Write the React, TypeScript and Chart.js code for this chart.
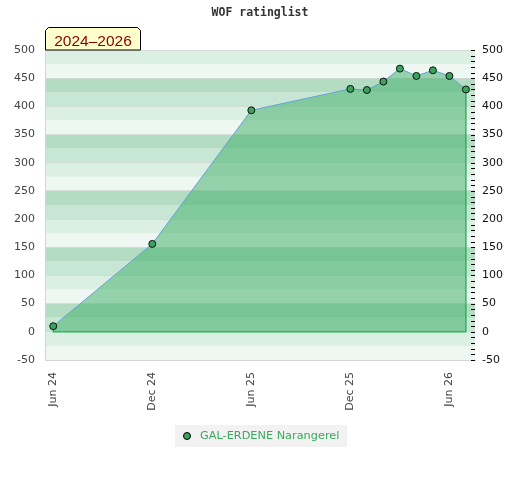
import React, { useEffect, useRef } from "react";
import { Chart, registerables } from "chart.js";

Chart.register(...registerables);

// ---- data ----
const monthIndex = [0, 6, 12, 18, 19, 20, 21, 22, 23, 24, 25]; // months since Jun 2024
const ratings = [10, 156, 393, 431, 429, 444, 467, 454, 464, 454, 430];
const xTickValues = [0, 6, 12, 18, 24];
const xTickLabels = ["Jun 24", "Dec 24", "Jun 25", "Dec 25", "Jun 26"];
const yMin = -50;
const yMax = 500;
const yStep = 50;
const seriesName = "GAL-ERDENE Narangerel";
const chartTitle = "WOF ratinglist";
const periodLabel = "2024\u20132026";

const FONT = "'DejaVu Sans', sans-serif";

const bandColor = (lower: number) => {
  const m = ((lower % 100) + 100) % 100;
  if (m === 75) return "#dcefe3";
  if (m === 50) return "#eff7f2";
  if (m === 25) return "#b3dcc3";
  return "#c7e6d3";
};

const bandsPlugin = {
  id: "bands",
  beforeDraw(chart: any) {
    const { ctx, chartArea, scales } = chart;
    const y = scales.y;
    ctx.save();
    for (let v = yMin; v < yMax; v += 25) {
      const yt = y.getPixelForValue(v + 25);
      const yb = y.getPixelForValue(v);
      ctx.fillStyle = bandColor(v);
      ctx.fillRect(chartArea.left, yt, chartArea.right - chartArea.left, yb - yt);
    }
    ctx.restore();
  },
};

const decorPlugin = {
  id: "decor",
  afterDraw(chart: any) {
    const { ctx, chartArea, scales } = chart;
    const y = scales.y;
    ctx.save();
    // right minor ticks
    ctx.strokeStyle = "#000";
    ctx.lineWidth = 1;
    ctx.beginPath();
    for (let v = yMin; v <= yMax; v += 10) {
      const py = Math.round(y.getPixelForValue(v)) + 0.5;
      ctx.moveTo(chartArea.right - 4, py);
      ctx.lineTo(chartArea.right, py);
    }
    ctx.stroke();

    // title
    ctx.fillStyle = "#333";
    ctx.font = "bold 11.5px 'DejaVu Sans Mono', monospace";
    ctx.textAlign = "center";
    ctx.textBaseline = "middle";
    ctx.fillText(chartTitle, 260, 13);

    // period box
    const l = chartArea.left + 0.5;
    const r = 140.5;
    const t = 27.5;
    const b = chartArea.top;
    ctx.beginPath();
    ctx.moveTo(l, b);
    ctx.lineTo(l, t + 3);
    ctx.lineTo(l + 3, t);
    ctx.lineTo(r - 3, t);
    ctx.lineTo(r, t + 3);
    ctx.lineTo(r, b);
    ctx.closePath();
    ctx.fillStyle = "#ffffcc";
    ctx.fill();
    ctx.strokeStyle = "#000";
    ctx.stroke();
    ctx.fillStyle = "#8b0000";
    ctx.font = "15.5px 'Liberation Sans', sans-serif";
    ctx.textAlign = "center";
    ctx.textBaseline = "alphabetic";
    ctx.fillText(periodLabel, (l + r) / 2, 45.5);

    // legend
    ctx.fillStyle = "#f2f2f2";
    ctx.fillRect(175, 425, 172, 22);
    ctx.beginPath();
    ctx.arc(187, 436, 3.5, 0, Math.PI * 2);
    ctx.fillStyle = "#3aa35c";
    ctx.fill();
    ctx.strokeStyle = "#000";
    ctx.lineWidth = 1;
    ctx.stroke();
    ctx.fillStyle = "#3aaa5c";
    ctx.font = "11.3px " + FONT;
    ctx.textAlign = "left";
    ctx.textBaseline = "middle";
    ctx.fillText(seriesName, 200, 436);
    ctx.restore();
  },
};

export default function App() {
  const ref = useRef<HTMLCanvasElement>(null);

  useEffect(() => {
    if (!ref.current) return;
    Chart.defaults.font.family = FONT;
    const pts = monthIndex.map((m, i) => ({ x: m, y: ratings[i] }));
    const n = monthIndex.length - 1;
    const outline = [
      { x: monthIndex[n], y: ratings[n] },
      { x: monthIndex[n], y: 0 },
      { x: monthIndex[0], y: 0 },
      { x: monthIndex[0], y: ratings[0] },
    ];
    const chart = new Chart(ref.current, {
      type: "line",
      data: {
        datasets: [
          {
            label: seriesName,
            data: pts,
            borderColor: "#63a2da",
            borderWidth: 1,
            pointRadius: 3.5,
            pointBackgroundColor: "#3aa35c",
            pointBorderColor: "#111",
            pointBorderWidth: 1,
            fill: false,
            order: 1,
          },
          {
            label: "outline",
            data: outline,
            borderColor: "#1fae55",
            borderWidth: 1.3,
            pointRadius: 0,
            fill: false,
            order: 2,
          },
          {
            label: "area",
            data: pts,
            borderWidth: 0,
            borderColor: "rgba(0,0,0,0)",
            pointRadius: 0,
            backgroundColor: "rgba(60,174,101,0.5)",
            fill: "origin",
            order: 3,
          },
        ],
      },
      options: {
        responsive: false,
        animation: false,
        layout: { padding: { top: 50, left: 0, right: 0, bottom: 0 } },
        plugins: {
          legend: { display: false },
          title: { display: false },
          tooltip: { enabled: false },
        },
        scales: {
          x: {
            type: "linear",
            min: -0.5,
            max: 25.55,
            afterBuildTicks: (s: any) => {
              s.ticks = xTickValues.map((v) => ({ value: v }));
            },
            afterFit: (s: any) => {
              s.height = 120;
            },
            ticks: {
              autoSkip: false,
              maxRotation: 90,
              minRotation: 90,
              padding: 12,
              color: "#444",
              font: { size: 11, family: FONT },
              callback: (v: any) => {
                const i = xTickValues.indexOf(Number(v));
                return i >= 0 ? xTickLabels[i] : "";
              },
            },
            grid: { display: false, drawTicks: false },
            border: { display: true, color: "#d4d4d4", width: 1 },
          },
          y: {
            position: "left",
            min: yMin,
            max: yMax,
            afterFit: (s: any) => {
              s.width = 45;
            },
            ticks: {
              stepSize: yStep,
              padding: 10,
              color: "#444",
              font: { size: 11, family: FONT },
            },
            grid: { color: "rgba(205,212,207,0.7)", drawTicks: false },
            border: { display: true, color: "#d4d4d4", width: 1 },
          },
          y2: {
            position: "right",
            min: yMin,
            max: yMax,
            afterFit: (s: any) => {
              s.width = 45;
            },
            ticks: {
              stepSize: yStep,
              padding: 7,
              color: "#111",
              font: { size: 11, family: FONT },
            },
            grid: { display: false, drawTicks: false },
            border: { display: false },
          },
        },
      },
      plugins: [bandsPlugin, decorPlugin],
    } as any);
    return () => chart.destroy();
  }, []);

  return (
    <canvas
      ref={ref}
      width={520}
      height={480}
      style={{ position: "absolute", left: 0, top: 0, width: 520, height: 480 }}
    />
  );
}
